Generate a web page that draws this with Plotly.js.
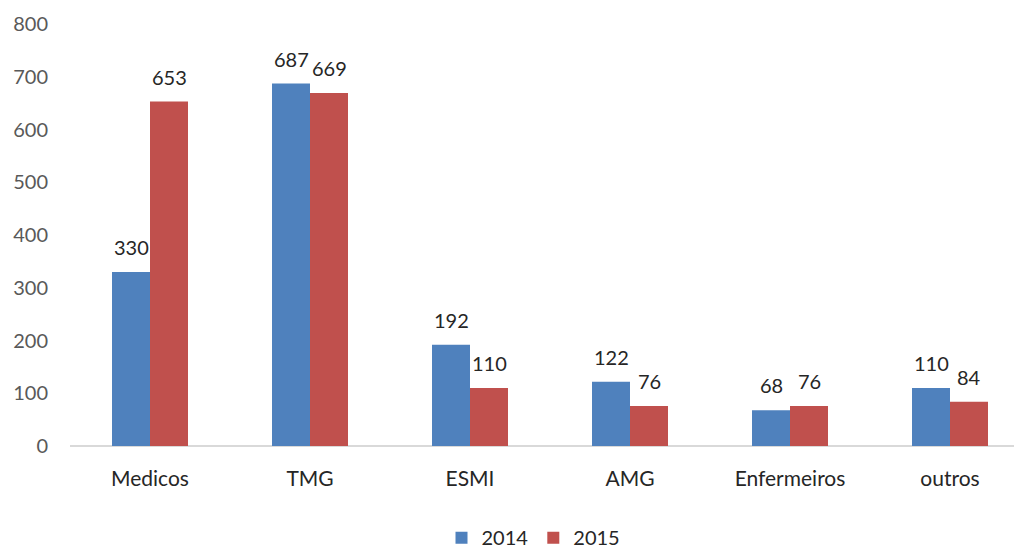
<!DOCTYPE html>
<html>
<head>
<meta charset="utf-8">
<script src="https://cdn.plot.ly/plotly-3.0.1.min.js"></script>
<style>html,body{margin:0;padding:0;background:#fff;}#chart{width:1014px;height:550px;}</style>
</head>
<body>
<div id="chart"></div>
<script>
const categories = ["Medicos", "TMG", "ESMI", "AMG", "Enfermeiros", "outros"];
const series2014 = [330, 687, 192, 122, 68, 110];
const series2015 = [653, 669, 110, 76, 76, 84];
const seriesNames = ["2014", "2015"];
const yTicks = [0, 100, 200, 300, 400, 500, 600, 700, 800];

const FONT = "Lato, 'Open Sans', sans-serif";
const colors = ["#4F81BD", "#C0504D"];

const traces = [series2014, series2015].map((vals, i) => ({
  type: "bar",
  name: seriesNames[i],
  x: categories,
  y: vals,
  marker: { color: colors[i] },
  hoverinfo: "x+y"
}));

const annotations = [];
[series2014, series2015].forEach((vals, i) => {
  vals.forEach((v, j) => {
    annotations.push({
      x: categories[j], y: v, xref: "x", yref: "y",
      text: String(v), showarrow: false,
      xshift: i === 0 ? -19 : 19, yshift: 11,
      yanchor: "bottom", xanchor: "center",
      font: { family: FONT, size: 20, color: "#262626" }
    });
  });
});

const layout = {
  width: 1014, height: 550,
  margin: { l: 70, r: 0, t: 24, b: 104, autoexpand: false },
  paper_bgcolor: "#fff", plot_bgcolor: "#fff",
  barmode: "group", bargap: 0.525, bargroupgap: 0,
  xaxis: {
    type: "category",
    range: [-0.5, 5.4],
    automargin: false,
    showgrid: false, zeroline: false,
    showline: false,
    ticks: "", ticklen: 0,
    ticklabelstandoff: 18,
    tickfont: { family: FONT, size: 21, color: "#262626" },
    fixedrange: true
  },
  yaxis: {
    range: [0, 800],
    automargin: false,
    tickvals: yTicks,
    showgrid: false,
    zeroline: true, zerolinecolor: "#D9D9D9", zerolinewidth: 1.5,
    showline: false,
    ticks: "",
    ticklabelstandoff: 21,
    tickfont: { family: FONT, size: 20, color: "#595959" },
    fixedrange: true
  },
  showlegend: true,
  legend: {
    orientation: "h",
    x: 0.491, xanchor: "center",
    yref: "paper", y: -0.171, yanchor: "top",
    font: { family: FONT, size: 20, color: "#262626" },
    itemwidth: 30,
    traceorder: "normal"
  },
  annotations: annotations
};

Plotly.newPlot("chart", traces, layout, { displayModeBar: false, staticPlot: false });
</script>
</body>
</html>
